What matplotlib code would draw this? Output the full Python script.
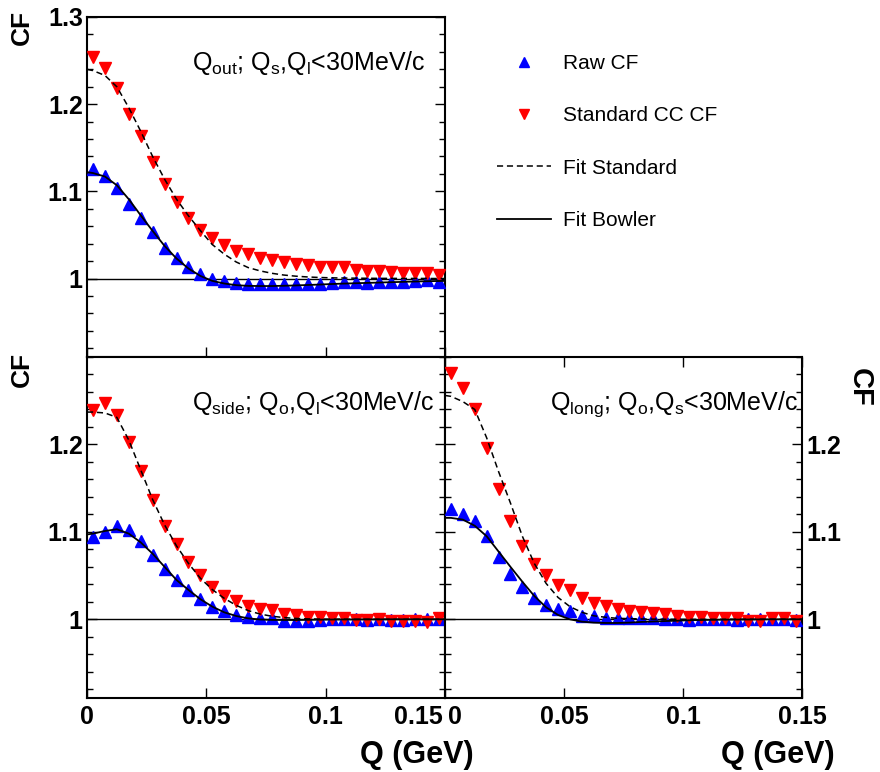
import numpy as np
import matplotlib
matplotlib.use('Agg')
import matplotlib.pyplot as plt
import matplotlib.transforms as mtransforms
from matplotlib.ticker import MultipleLocator

plt.rcParams['font.family'] = ['Liberation Sans', 'DejaVu Sans']
plt.rcParams['mathtext.fontset'] = 'custom'
plt.rcParams['mathtext.rm'] = 'Liberation Sans'
plt.rcParams['mathtext.it'] = 'Liberation Sans:italic'
plt.rcParams['mathtext.bf'] = 'Liberation Sans:bold'

# bin centres (GeV)
q_bins = [0.0025, 0.0075, 0.0125, 0.0175, 0.0225, 0.0275, 0.0325, 0.0375, 0.0425, 0.0475,
          0.0525, 0.0575, 0.0625, 0.0675, 0.0725, 0.0775, 0.0825, 0.0875, 0.0925, 0.0975,
          0.1025, 0.1075, 0.1125, 0.1175, 0.1225, 0.1275, 0.1325, 0.1375, 0.1425, 0.1475]
# points where the fit curves were read
fit_q = [0.0] + q_bins + [0.15]

# Q_out panel
out_raw = [1.126, 1.118, 1.104, 1.086, 1.070, 1.053, 1.035, 1.023, 1.013, 1.005,
           0.999, 0.997, 0.995, 0.9935, 0.9935, 0.9935, 0.994, 0.994, 0.994, 0.9935,
           0.995, 0.9966, 0.9966, 0.995, 0.9966, 0.9966, 0.996, 0.997, 0.998, 0.996]
out_std = [1.254, 1.241, 1.219, 1.189, 1.163, 1.134, 1.109, 1.088, 1.070, 1.056,
           1.046, 1.038, 1.032, 1.028, 1.024, 1.021, 1.019, 1.017, 1.015, 1.013,
           1.013, 1.013, 1.010, 1.009, 1.009, 1.007, 1.006, 1.006, 1.006, 1.004]
out_fit_std = [1.240, 1.2385, 1.233, 1.220, 1.196, 1.169, 1.140, 1.114, 1.091, 1.072,
               1.055, 1.039, 1.028, 1.019, 1.0126, 1.0088, 1.006, 1.004, 1.0027, 1.0018,
               1.0012, 1.0008, 1.0006, 1.0004, 1.0003, 1.0002, 1.0002, 1.0001, 1.0001, 1.0001,
               1.0, 1.0]
out_fit_bowler = [1.122, 1.121, 1.117, 1.107, 1.091, 1.0725, 1.0546, 1.0374, 1.023, 1.0115,
                  1.003, 0.9973, 0.9943, 0.9924, 0.9916, 0.9914, 0.9914, 0.9917, 0.9921, 0.9926,
                  0.9931, 0.9937, 0.9942, 0.9946, 0.995, 0.9954, 0.9958, 0.9962, 0.9966, 0.9969,
                  0.9972, 0.9973]

# Q_side panel
side_raw = [1.094, 1.100, 1.107, 1.102, 1.090, 1.074, 1.058, 1.045, 1.033, 1.023,
            1.0145, 1.009, 1.005, 1.003, 1.001, 1.001, 0.998, 0.9985, 0.9985, 0.999,
            1.0, 1.0, 1.0, 0.9995, 1.0, 0.9995, 0.9995, 1.0, 1.0, 1.0005]
side_std = [1.239, 1.247, 1.234, 1.203, 1.170, 1.136, 1.107, 1.086, 1.066, 1.051,
            1.037, 1.027, 1.021, 1.015, 1.012, 1.011, 1.006, 1.005, 1.003, 1.003,
            1.002, 1.002, 0.999, 0.999, 1.0, 0.998, 0.998, 0.998, 0.997, 1.001]
side_fit_std = [1.237, 1.237, 1.236, 1.231, 1.205, 1.171, 1.137, 1.108, 1.084, 1.064,
                1.047, 1.034, 1.024, 1.016, 1.010, 1.006, 1.0035, 1.002, 1.001, 1.0005,
                1.0002, 1.0001, 1.0001, 1.0, 1.0, 1.0, 1.0, 1.0, 1.0, 1.0,
                1.0, 1.0]
side_fit_bowler = [1.097, 1.098, 1.101, 1.103, 1.098, 1.088, 1.075, 1.060, 1.045, 1.0336,
                   1.023, 1.0145, 1.008, 1.0038, 1.0011, 0.9998, 0.9993, 0.9992, 0.9992, 0.9994,
                   0.9996, 0.9997, 0.9998, 0.9998, 0.9999, 0.9999, 1.0, 1.0, 1.0, 1.0,
                   1.0, 1.0]

# Q_long panel
long_raw = [1.126, 1.121, 1.112, 1.095, 1.071, 1.052, 1.037, 1.024, 1.016, 1.0115,
            1.009, 1.004, 1.004, 1.002, 1.002, 1.001, 1.001, 1.001, 1.0, 1.0,
            0.9995, 1.0, 1.0, 1.0, 0.9995, 1.0, 1.0005, 1.0, 1.0, 0.9995]
long_std = [1.282, 1.2645, 1.240, 1.196, 1.149, 1.112, 1.084, 1.063, 1.051, 1.039,
            1.033, 1.024, 1.019, 1.015, 1.0115, 1.009, 1.008, 1.007, 1.006, 1.004,
            1.003, 1.003, 1.001, 1.002, 1.001, 0.998, 0.998, 1.001, 1.002, 0.998]
long_fit_std = [1.256, 1.255, 1.249, 1.240, 1.2076, 1.169, 1.133, 1.095, 1.064, 1.041,
                1.025, 1.0145, 1.008, 1.004, 1.0023, 1.0011, 1.0008, 1.0004, 1.0002, 1.0001,
                1.0, 1.0, 1.0, 1.0, 1.0, 1.0, 1.0, 1.0, 1.0, 1.0,
                1.0, 1.0]
long_fit_bowler = [1.116, 1.116, 1.114, 1.107, 1.095, 1.0775, 1.060, 1.043, 1.0267, 1.0137,
                   1.005, 1.0, 0.9973, 0.9962, 0.9958, 0.9958, 0.9962, 0.997, 0.9975, 0.998,
                   0.9984, 0.9989, 0.9992, 0.9994, 0.9996, 0.9997, 0.9998, 0.9999, 1.0, 1.0,
                   1.0, 1.0]

panel_labels = [r'Q$_{\mathrm{out}}$; Q$_{\mathrm{s}}$,Q$_{\mathrm{l}}$<30MeV/c',
                r'Q$_{\mathrm{side}}$; Q$_{\mathrm{o}}$,Q$_{\mathrm{l}}$<30MeV/c',
                r'Q$_{\mathrm{long}}$; Q$_{\mathrm{o}}$,Q$_{\mathrm{s}}$<30MeV/c']

x_ticks = [0, 0.05, 0.1, 0.15]
x_tick_labels = ['0', '0.05', '0.1', '0.15']
y_ticks = [1.0, 1.1, 1.2, 1.3]
y_tick_labels = ['1', '1.1', '1.2', '1.3']

W, H = 880, 772


def draw_panel(ax, raw, std, fit_std, fit_bowler, label):
    l1 = ax.plot(q_bins, raw, ls='none', marker='^', ms=8.5, color='blue', mec='blue', zorder=3)[0]
    l2 = ax.plot(q_bins, std, ls='none', marker='v', ms=8.5, color='red', mec='red', zorder=3)[0]
    l3 = ax.plot(fit_q, fit_std, ls=(0, (4, 2.5)), lw=1.1, color='black', zorder=4)[0]
    l4 = ax.plot(fit_q, fit_bowler, ls='-', lw=1.3, color='black', zorder=4)[0]
    ax.axhline(1.0, color='black', lw=1.0, zorder=2)
    ax.set_xlim(0, 0.15)
    ax.set_ylim(0.91, 1.3)
    ax.yaxis.set_minor_locator(MultipleLocator(0.02))
    ax.tick_params(which='both', direction='in', left=True, right=True, bottom=True)
    ax.tick_params(which='major', length=7, width=1)
    ax.tick_params(which='minor', length=4, width=1)
    for sp in ax.spines.values():
        sp.set_linewidth(1.5)
    ax.text(0.293, 0.844, label, transform=ax.transAxes, ha='left', va='baseline', fontsize=18)
    return [l1, l2, l3, l4]


def shift_label(fig, lbl, dx_px):
    # nudge a tick label sideways by a few pixels
    lbl.set_transform(lbl.get_transform() + mtransforms.ScaledTranslation(dx_px / fig.dpi, 0, fig.dpi_scale_trans))


def draw_graph():
    fig = plt.figure(figsize=(8.8, 7.72), dpi=100)
    ax1 = fig.add_axes([87 / W, 1 - 357 / H, 358 / W, 340 / H])
    ax2 = fig.add_axes([87 / W, 1 - 698 / H, 358 / W, 341 / H])
    ax3 = fig.add_axes([445 / W, 1 - 698 / H, 357 / W, 341 / H])

    handles = draw_panel(ax1, out_raw, out_std, out_fit_std, out_fit_bowler, panel_labels[0])
    draw_panel(ax2, side_raw, side_std, side_fit_std, side_fit_bowler, panel_labels[1])
    draw_panel(ax3, long_raw, long_std, long_fit_std, long_fit_bowler, panel_labels[2])

    tick_font = dict(fontsize=18, fontweight='bold')
    # top panel: no x labels
    ax1.set_xticks(x_ticks, labels=[''] * len(x_ticks))
    ax1.set_yticks(y_ticks, labels=y_tick_labels, **tick_font)
    ax1.tick_params(axis='y', pad=3)

    ax2.set_xticks(x_ticks, labels=x_tick_labels, **tick_font)
    ax2.set_yticks(y_ticks[:3], labels=y_tick_labels[:3], **tick_font)
    ax2.tick_params(axis='x', pad=5)
    ax2.tick_params(axis='y', pad=3)
    ax2.get_xticklabels()[-1].set_ha('right')
    shift_label(fig, ax2.get_xticklabels()[-1], -2)

    ax3.set_xticks(x_ticks, labels=x_tick_labels, **tick_font)
    ax3.set_yticks(y_ticks[:3], labels=y_tick_labels[:3], **tick_font)
    ax3.tick_params(axis='x', which='both', top=True, pad=5)
    ax3.tick_params(axis='y', labelleft=False, labelright=True, pad=3)
    ax3.get_xticklabels()[0].set_ha('left')
    shift_label(fig, ax3.get_xticklabels()[0], 3)

    # axis titles
    fig.text(22 / W, 1 - 10 / H, 'CF', rotation=90, ha='center', va='top', fontsize=19, fontweight='bold')
    fig.text(22 / W, 1 - 352 / H, 'CF', rotation=90, ha='center', va='top', fontsize=19, fontweight='bold')
    fig.text(860 / W, 1 - 368 / H, 'CF', rotation=270, ha='center', va='top', fontsize=21, fontweight='bold')
    fig.text(474 / W, 1 - 763 / H, 'Q (GeV)', ha='right', va='baseline', fontsize=22, fontweight='bold')
    fig.text(835 / W, 1 - 763 / H, 'Q (GeV)', ha='right', va='baseline', fontsize=22, fontweight='bold')

    fig.legend(handles, ['Raw CF', 'Standard CC CF', 'Fit Standard', 'Fit Bowler'],
               loc='upper left', bbox_to_anchor=(497 / W, 1 - 54 / H), frameon=False,
               fontsize=15, handlelength=2.57, handletextpad=0.62, labelspacing=1.6,
               markerscale=0.85, borderaxespad=0, borderpad=0)

    fig.savefig('out.png', dpi=100)


if __name__ == "__main__":

    draw_graph()
